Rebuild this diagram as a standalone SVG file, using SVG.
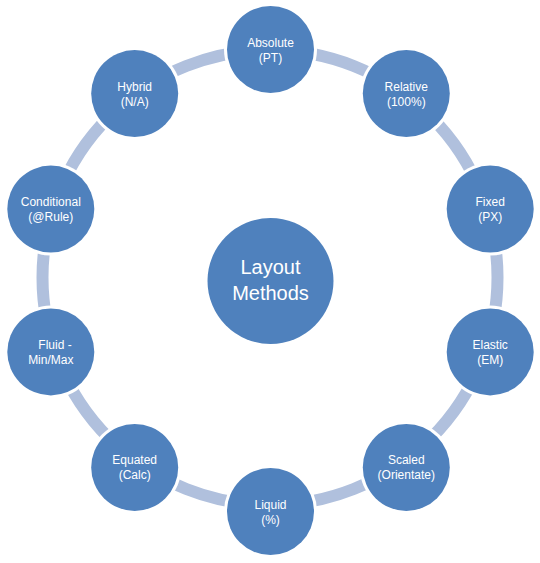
<svg xmlns="http://www.w3.org/2000/svg" width="540" height="563" viewBox="0 0 540 563">
<style>
.ring{fill:none;stroke:#B0C0DD;stroke-width:12}
.halo{fill:#FFFFFF}
.node{fill:#4F81BD}
.t{font-family:"Liberation Sans",Arial,sans-serif;font-size:12px;fill:#FFFFFF;text-anchor:middle}
.tc{font-family:"Liberation Sans",Arial,sans-serif;font-size:20px;fill:#FFFFFF;text-anchor:middle}
</style>
<rect width="540" height="563" fill="#FFFFFF"/>
<g id="connectors">
<circle class="ring" cx="270" cy="277.5" r="227.5"/>
</g>
<g id="center">
<circle class="node" cx="270.5" cy="281" r="63"/>
<text class="tc" x="270.5" y="274">Layout</text>
<text class="tc" x="270.5" y="300">Methods</text>
</g>
<g id="absolute">
<circle class="halo" cx="270.5" cy="49.5" r="46.5"/>
<circle class="node" cx="270.5" cy="49.5" r="43.5"/>
<text class="t" x="270.5" y="46.5">Absolute</text>
<text class="t" x="270.5" y="61.5">(PT)</text>
</g>
<g id="relative">
<circle class="halo" cx="406.3" cy="93.6" r="46.5"/>
<circle class="node" cx="406.3" cy="93.6" r="43.5"/>
<text class="t" x="406.3" y="90.6">Relative</text>
<text class="t" x="406.3" y="105.6">(100%)</text>
</g>
<g id="fixed">
<circle class="halo" cx="490.2" cy="209.1" r="46.5"/>
<circle class="node" cx="490.2" cy="209.1" r="43.5"/>
<text class="t" x="490.2" y="206.1">Fixed</text>
<text class="t" x="490.2" y="221.1">(PX)</text>
</g>
<g id="elastic">
<circle class="halo" cx="490.2" cy="351.9" r="46.5"/>
<circle class="node" cx="490.2" cy="351.9" r="43.5"/>
<text class="t" x="490.2" y="348.9">Elastic</text>
<text class="t" x="490.2" y="363.9">(EM)</text>
</g>
<g id="scaled">
<circle class="halo" cx="406.3" cy="467.4" r="46.5"/>
<circle class="node" cx="406.3" cy="467.4" r="43.5"/>
<text class="t" x="406.3" y="464.4">Scaled</text>
<text class="t" x="406.3" y="479.4">(Orientate)</text>
</g>
<g id="liquid">
<circle class="halo" cx="270.5" cy="511.5" r="46.5"/>
<circle class="node" cx="270.5" cy="511.5" r="43.5"/>
<text class="t" x="270.5" y="508.5">Liquid</text>
<text class="t" x="270.5" y="523.5">(%)</text>
</g>
<g id="equated">
<circle class="halo" cx="134.7" cy="467.4" r="46.5"/>
<circle class="node" cx="134.7" cy="467.4" r="43.5"/>
<text class="t" x="134.7" y="464.4">Equated</text>
<text class="t" x="134.7" y="479.4">(Calc)</text>
</g>
<g id="fluid">
<circle class="halo" cx="50.8" cy="351.9" r="46.5"/>
<circle class="node" cx="50.8" cy="351.9" r="43.5"/>
<text class="t" x="55" y="348.9">Fluid -</text>
<text class="t" x="50.8" y="363.9">Min/Max</text>
</g>
<g id="conditional">
<circle class="halo" cx="50.8" cy="209.1" r="46.5"/>
<circle class="node" cx="50.8" cy="209.1" r="43.5"/>
<text class="t" x="50.8" y="206.1">Conditional</text>
<text class="t" x="50.8" y="221.1">(@Rule)</text>
</g>
<g id="hybrid">
<circle class="halo" cx="134.7" cy="93.6" r="46.5"/>
<circle class="node" cx="134.7" cy="93.6" r="43.5"/>
<text class="t" x="134.7" y="90.6">Hybrid</text>
<text class="t" x="134.7" y="105.6">(N/A)</text>
</g>
</svg>
